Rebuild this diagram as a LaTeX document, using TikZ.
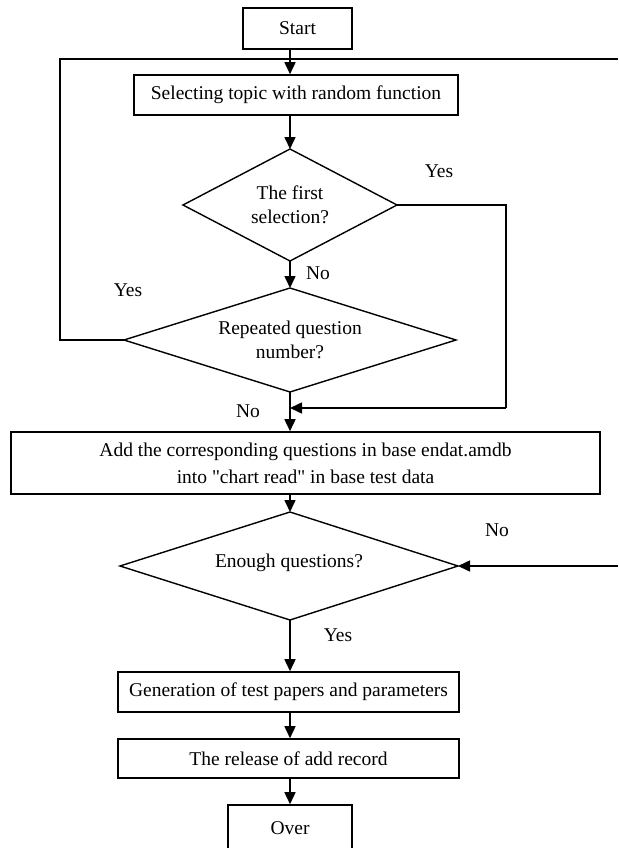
\documentclass[tikz,border=0pt]{standalone}
\usepackage{fontspec}
\setmainfont{Liberation Serif}[Ligatures=TeXOff]
\usetikzlibrary{arrows.meta}
\begin{document}
\begin{tikzpicture}[x=1pt,y=-1pt,
  every node/.style={font=\fontsize{19.5}{24}\selectfont, inner sep=0pt},
  box/.style={draw, line width=1.6pt, rectangle, align=center},
  dectext/.style={align=center},
  decline/.style={line width=1.4pt, line join=miter},
  conn/.style={line width=1.6pt},
  arr/.style={conn, -{Triangle[length=12pt,width=11pt]}},
  lbl/.style={}]
\useasboundingbox (0,0) rectangle (618,848);

% boxes
\node[box, minimum width=109pt, minimum height=41pt] (start) at (297.5,28.5) {Start};
\node[box, minimum width=324pt, minimum height=40pt] (sel) at (296,95) {Selecting topic with random function};
\node[box, minimum width=589pt, minimum height=62pt, font=\fontsize{19.5}{27}\selectfont] (b3) at (305.5,463)
  {Add the corresponding questions in base endat.amdb\\into "chart read" in base test data};
\node[box, minimum width=341pt, minimum height=40pt] (b4) at (288.5,692) {Generation of test papers and parameters};
\node[box, minimum width=341pt, minimum height=39pt] (b5) at (288.5,758.5) {The release of add record};
\node[box, minimum width=124pt, minimum height=46pt] (over) at (290,828) {Over};

% decision 1
\coordinate (d1n) at (290,149);
\coordinate (d1s) at (290,261);
\coordinate (d1w) at (183,205);
\coordinate (d1e) at (397,205);
\draw[decline] (d1n) -- (d1e) -- (d1s) -- (d1w) -- cycle;
\node[dectext] (d1) at (290,205) {The first\\selection?};

% decision 2
\coordinate (d2n) at (290,288);
\coordinate (d2s) at (290,392);
\coordinate (d2w) at (124,340);
\coordinate (d2e) at (456,340);
\draw[decline] (d2n) -- (d2e) -- (d2s) -- (d2w) -- cycle;
\node[dectext] (d2) at (290,340) {Repeated question\\number?};

% decision 3
\coordinate (d3n) at (290,512);
\coordinate (d3s) at (290,620);
\coordinate (d3w) at (120,566);
\coordinate (d3e) at (458,566);
\draw[decline] (d3n) -- (d3e) -- (d3s) -- (d3w) -- cycle;
\node[dectext] (d3) at (289,563) {Enough questions?};

% labels
\node[lbl] (yes1) at (439,171) {Yes};
\node[lbl] (no1) at (318,273) {No};
\node[lbl] (yes2) at (128,290) {Yes};
\node[lbl] (no2) at (248,411) {No};
\node[lbl] (no3) at (497,530) {No};
\node[lbl] (yes3) at (338,635) {Yes};

% helper coordinates
\coordinate (lx) at (60,59);
\coordinate (tr) at (618,59);
\coordinate (rx) at (506,205);
\coordinate (j) at (290,408);
\coordinate (er) at (618,566);

% connectors
\draw[arr] (start.south -| d1n) -- (sel.north -| d1n);
\draw[conn] (d2w) -- (d2w -| lx) -- (lx) -- (tr);
\draw[arr] (sel.south -| d1n) -- (d1n);
\draw[arr] (d1s) -- (d2n);
\draw[conn] (d1e) -- (rx) -- (rx |- j);
\draw[arr] (rx |- j) -- (j);
\draw[arr] (d2s) -- (b3.north -| d2s);
\draw[arr] (b3.south -| d3n) -- (d3n);
\draw[arr] (er) -- (d3e);
\draw[arr] (d3s) -- (b4.north -| d3s);
\draw[arr] (b4.south -| d3s) -- (b5.north -| d3s);
\draw[arr] (b5.south -| d3s) -- (over.north);
\end{tikzpicture}
\end{document}
